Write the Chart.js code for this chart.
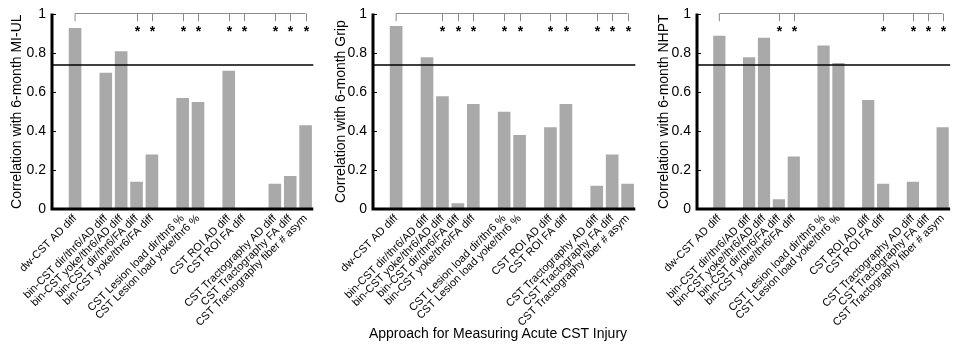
<!DOCTYPE html>
<html>
<head>
<meta charset="utf-8">
<script src="https://cdn.jsdelivr.net/npm/chart.js@4.4.0/dist/chart.umd.min.js"></script>
<style>
  body { margin: 0; background: #fff; }
  #wrap { position: relative; width: 955px; height: 346px; overflow: hidden; }
  canvas { position: absolute; top: 0; }
  #xtitle {
    position: absolute; left: 298px; width: 400px; top: 325px;
    text-align: center; font: 14px "Liberation Sans", Arial, sans-serif; color: #000;
  }
</style>
</head>
<body>
<div id="wrap">
  <canvas id="c1" width="318" height="346" style="left:0px"></canvas>
  <canvas id="c2" width="322" height="346" style="left:318px"></canvas>
  <canvas id="c3" width="315" height="346" style="left:640px"></canvas>
  <div id="xtitle">Approach for Measuring Acute CST Injury</div>
</div>
<script>
// categories (blank entries are the gaps between groups)
const categories = [
  "", "dw-CST AD diff", "",
  "bin-CST dir/thr6/AD diff", "bin-CST yoke/thr6/AD diff",
  "bin-CST dir/thr6/FA diff", "bin-CST yoke/thr6/FA diff", "",
  "CST Lesion load dir/thr6 %", "CST Lesion load yoke/thr6 %", "",
  "CST ROI AD diff", "CST ROI FA diff", "",
  "CST Tractography AD diff", "CST Tractography FA diff", "CST Tractography fiber # asym"
];

const miulValues = [null, 0.93, null, 0.70, 0.81, 0.14, 0.28, null, 0.57, 0.55, null, 0.71, null, null, 0.13, 0.17, 0.43];
const gripValues = [null, 0.94, null, 0.78, 0.58, 0.03, 0.54, null, 0.50, 0.38, null, 0.42, 0.54, null, 0.12, 0.28, 0.13];
const nhptValues = [null, 0.89, null, 0.78, 0.88, 0.05, 0.27, null, 0.84, 0.75, null, 0.56, 0.13, null, 0.14, null, 0.42];

// indices compared against the first bar that came out significant (*)
const miulSig = [5, 6, 8, 9, 11, 12, 14, 15, 16];
const gripSig = [4, 5, 6, 8, 9, 11, 12, 14, 15, 16];
const nhptSig = [5, 6, 12, 14, 15, 16];

const refIndex = 1;
const thresholdValue = 0.74;
const yTicks = [0, 0.2, 0.4, 0.6, 0.8, 1];

const FONT = "'Liberation Sans', Arial, sans-serif";

const annotate = {
  id: "annotate",
  afterDraw(chart, args, opts) {
    const ctx = chart.ctx;
    const x = chart.scales.x, y = chart.scales.y;
    const area = chart.chartArea;
    ctx.save();
    // axes redrawn on top of the bars so they keep an even weight
    const y0 = y.getPixelForValue(0);
    ctx.strokeStyle = "#000";
    ctx.lineWidth = 3;
    ctx.beginPath();
    ctx.moveTo(area.left, y.getPixelForValue(1) - 1);
    ctx.lineTo(area.left, y0);
    ctx.lineTo(area.right, y0);
    ctx.stroke();
    // small inward ticks on the y axis
    ctx.lineWidth = 1;
    yTicks.forEach(v => {
      const py = Math.round(y.getPixelForValue(v)) + 0.5;
      ctx.beginPath();
      ctx.moveTo(area.left, py);
      ctx.lineTo(area.left + 4, py);
      ctx.stroke();
    });
    // threshold line
    const ty = y.getPixelForValue(thresholdValue);
    ctx.lineWidth = 1.5;
    ctx.beginPath();
    ctx.moveTo(area.left, ty);
    ctx.lineTo(area.right, ty);
    ctx.stroke();
    // bracket
    const top = Math.round(y.getPixelForValue(1.007)) + 0.5;
    const tickEnd = y.getPixelForValue(0.965);
    const last = opts.sig[opts.sig.length - 1];
    ctx.strokeStyle = "#8a8a8a";
    ctx.lineWidth = 1;
    ctx.beginPath();
    ctx.moveTo(x.getPixelForValue(refIndex), tickEnd);
    ctx.lineTo(x.getPixelForValue(refIndex), top);
    ctx.lineTo(x.getPixelForValue(last), top);
    ctx.stroke();
    ctx.fillStyle = "#000";
    ctx.font = "bold 14px " + FONT;
    ctx.textAlign = "center";
    ctx.textBaseline = "alphabetic";
    const starY = y.getPixelForValue(0.93) + 8;
    opts.sig.forEach(i => {
      const px = Math.round(x.getPixelForValue(i)) + 0.5;
      ctx.beginPath();
      ctx.moveTo(px, top);
      ctx.lineTo(px, tickEnd);
      ctx.stroke();
      ctx.fillText("*", px, starY);
    });
    ctx.restore();
  }
};

function makePanel(id, values, sig, yTitle, yWidth, titlePad, padRight) {
  const H = 346;
  return new Chart(document.getElementById(id), {
    type: "bar",
    data: {
      labels: categories,
      datasets: [{
        data: values,
        backgroundColor: "#a9a9a9",
        borderWidth: 0,
        categoryPercentage: 1,
        barPercentage: 0.82
      }]
    },
    plugins: [annotate],
    options: {
      responsive: false,
      animation: false,
      devicePixelRatio: 1,
      layout: { padding: { top: 13, right: padRight, bottom: 0, left: 0 } },
      plugins: {
        legend: { display: false },
        tooltip: { enabled: false },
        annotate: { sig: sig }
      },
      scales: {
        x: {
          type: "category",
          offset: true,
          grid: { display: false, drawTicks: false },
          border: { display: false },
          ticks: {
            autoSkip: false,
            minRotation: 45,
            maxRotation: 45,
            padding: 3,
            color: "#000",
            font: { family: FONT, size: 11 }
          },
          afterFit(scale) { scale.height = H - 209; }
        },
        y: {
          min: 0,
          max: 1,
          grid: { display: false, drawTicks: false },
          border: { display: false },
          ticks: {
            stepSize: 0.2,
            padding: 6,
            color: "#000",
            font: { family: FONT, size: 14 },
            callback: v => String(Math.round(v * 10) / 10)
          },
          title: {
            display: true,
            text: yTitle,
            color: "#000",
            font: { family: FONT, size: 14 },
            padding: { top: titlePad, bottom: 0 }
          },
          afterFit(scale) { scale.width = yWidth; }
        }
      }
    }
  });
}

makePanel("c1", miulValues, miulSig, "Correlation with 6-month MI-UL", 52, 9, 2);
makePanel("c2", gripValues, gripSig, "Correlation with 6-month Grip", 55, 15, 2);
makePanel("c3", nhptValues, nhptSig, "Correlation with 6-month NHPT", 57, 16, 0);
</script>
</body>
</html>
